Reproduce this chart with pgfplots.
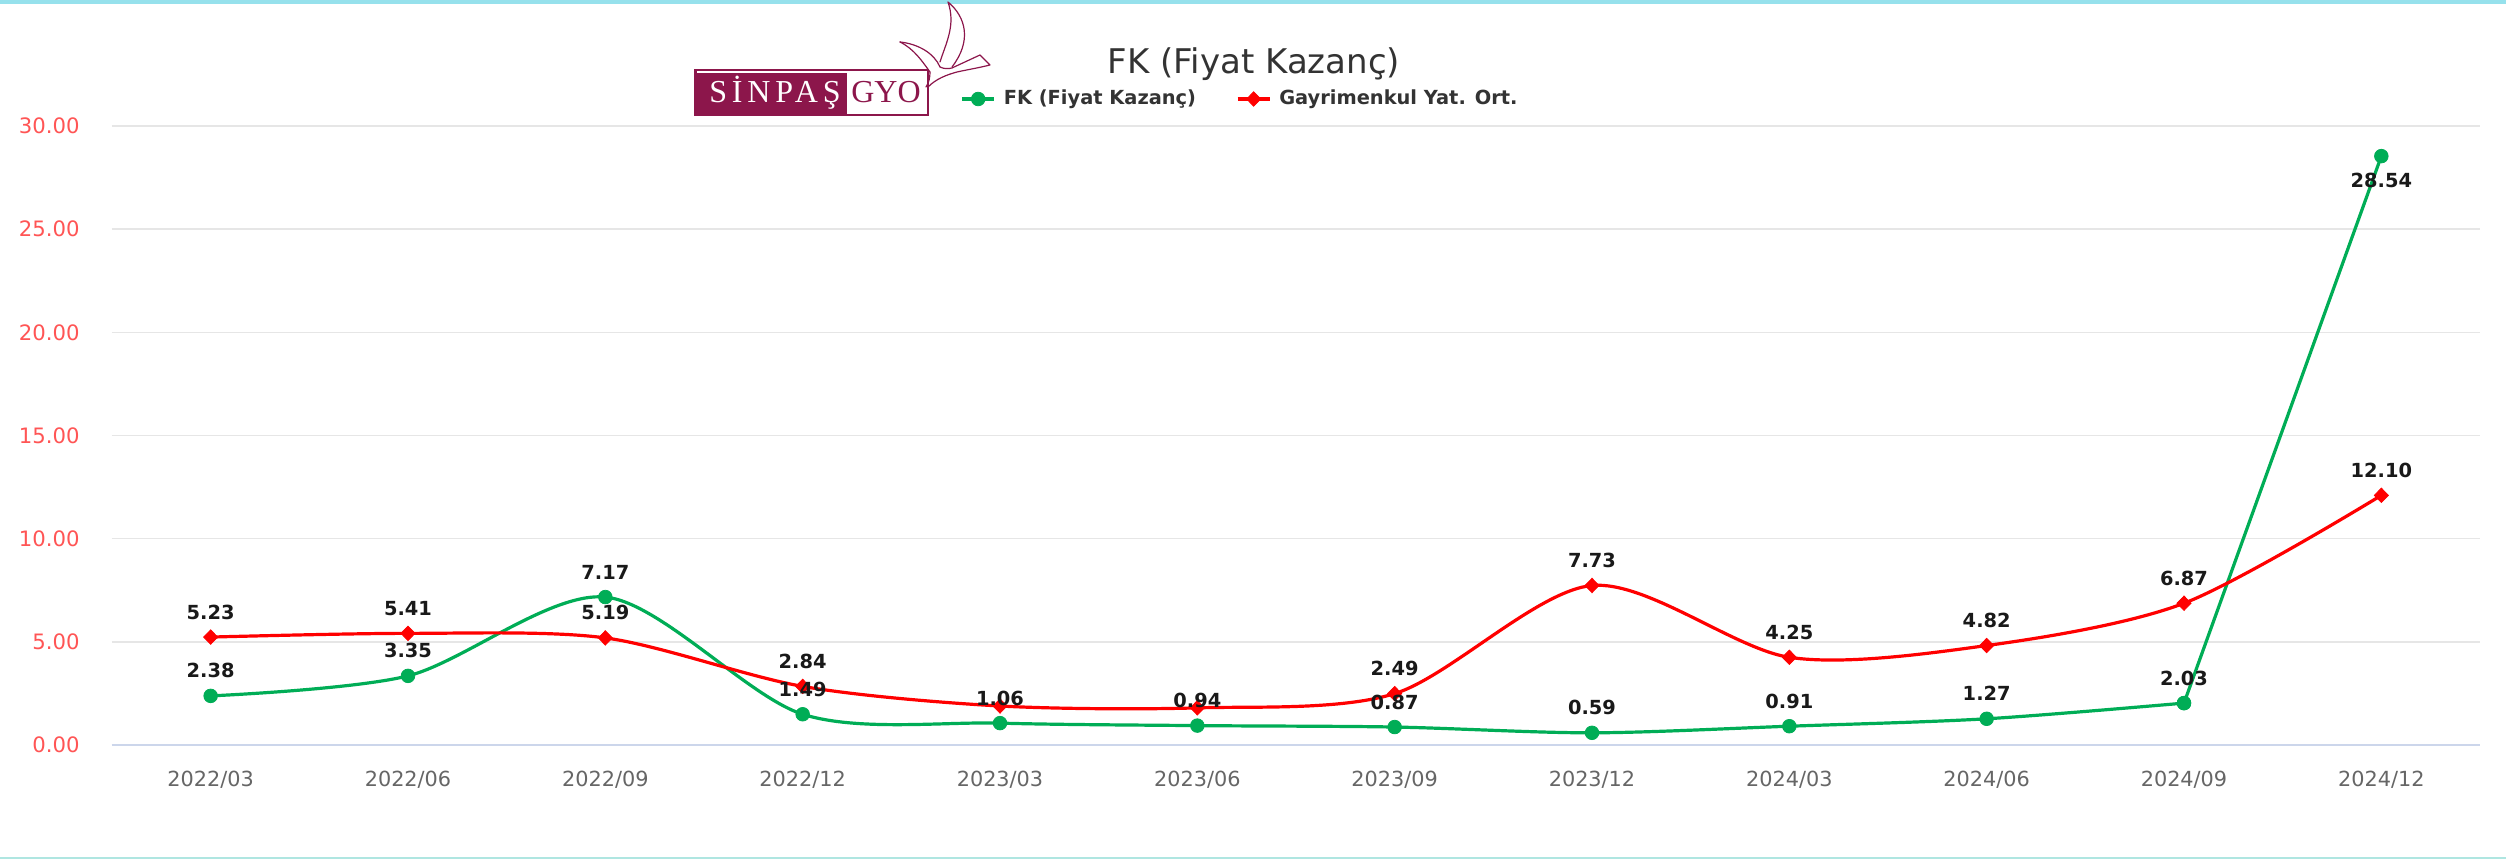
\documentclass[border=0pt]{standalone}
\usepackage{fontspec}
\setmainfont{DejaVu Sans}
\newfontfamily\logofont{Liberation Serif}
\usepackage{pgfplots}
\pgfplotsset{compat=1.18}
\usepackage{pgfplotstable}
\definecolor{fkgreen}{RGB}{0,173,86}
\definecolor{gyred}{RGB}{255,0,0}
\definecolor{ticred}{RGB}{255,85,85}
\definecolor{xlab}{RGB}{102,102,102}
\definecolor{ttl}{RGB}{51,51,51}
\definecolor{lbl}{RGB}{25,25,25}
\definecolor{gridc}{RGB}{230,230,230}
\definecolor{axc}{RGB}{204,214,235}
\definecolor{maroon}{RGB}{140,22,75}
\definecolor{topc}{RGB}{150,225,236}
\definecolor{botc}{RGB}{175,230,225}
\newcommand\ytfont{\fontsize{10.6}{12}\selectfont}
\newcommand\xtfont{\fontsize{10.4}{12}\selectfont}
\newcommand\lblfont{\fontsize{9.7}{11}\selectfont\bfseries}
\newcommand\legfont{\fontsize{9.7}{11}\selectfont\bfseries}
\newcommand\titlefont{\fontsize{17}{20}\selectfont}

\pgfplotstableread{
x y dy
0 2.38 12.5
1 3.35 12.5
2 7.17 12.5
3 1.49 12.5
4 1.06 12.5
5 0.94 12.5
6 0.87 12.5
7 0.59 12.5
8 0.91 12.5
9 1.27 12.5
10 2.03 12.5
11 28.54 -12
}\fk

\pgfplotstableread{
x y dy
0 5.23 12.5
1 5.41 12.5
2 5.19 12.5
3 2.84 12.5
4 1.89 12.5
5 1.80 12.5
6 2.49 12.5
7 7.73 12.5
8 4.25 12.5
9 4.82 12.5
10 6.87 12.5
11 12.10 12.5
}\gy

\begin{document}
\begin{tikzpicture}
\fill[white] (-56pt,-57.5pt) rectangle (1197pt,372.5pt);
\fill[topc] (-56pt,370.5pt) rectangle (1197pt,372.5pt);
\fill[botc] (-56pt,-57.2pt) rectangle (1197pt,-56.2pt);
\begin{axis}[
  scale only axis, width=1184pt, height=309.5pt,
  xmin=-0.5, xmax=11.5, ymin=0, ymax=30,
  xtick={0,...,11},
  xticklabels={2022/03,2022/06,2022/09,2022/12,2023/03,2023/06,2023/09,2023/12,2024/03,2024/06,2024/09,2024/12},
  ytick={0,5,...,30},
  axis line style={draw=none}, major tick length=0pt,
  ymajorgrids, grid style={gridc, line width=0.8pt},
  /pgf/number format/assume math mode=true,
  yticklabel style={anchor=east, inner sep=0pt, xshift=-16pt, font=\ytfont, text=ticred,
    /pgf/number format/.cd, fixed, fixed zerofill, precision=2},
  xticklabel style={anchor=base, inner sep=0pt, yshift=-20.6pt, font=\xtfont, text=xlab},
  clip=false,
  legend style={at={(axis description cs:0.4768,1.0436)}, anchor=center, draw=none, fill=none,
    legend columns=2, font=\legfont, text=ttl, inner sep=0pt, column sep=2pt,
    /tikz/every even column/.append style={column sep=18pt}},
  legend image code/.code={\draw[mark repeat=2,mark phase=2,#1] plot coordinates {(0pt,0pt) (8pt,0pt) (16pt,0pt)};},
]
\draw[axc, line width=1pt] (rel axis cs:0,0) -- (rel axis cs:1,0);

\addplot[fkgreen, line width=1.6pt, smooth, mark=*, mark size=3.4pt, mark options={line width=0.4pt},
  restrict x to domain=0:10] table[x=x,y=y] {\fk};
\addlegendentry{FK (Fiyat Kazanç)}
\addplot[fkgreen, line width=1.6pt, sharp plot, mark=*, mark size=3.4pt, mark options={line width=0.4pt},
  restrict x to domain=10:11, forget plot] table[x=x,y=y] {\fk};

\addplot[gyred, line width=1.6pt, smooth, mark=diamond*, mark size=3.6pt, mark options={xscale=1.3, line width=0.4pt}]
  table[x=x,y=y] {\gy};
\addlegendentry{Gayrimenkul Yat. Ort.}

\addplot[draw=none, mark=none, forget plot, point meta=y,
  visualization depends on={\thisrow{dy}\as\dy},
  nodes near coords={\pgfmathprintnumber[fixed,fixed zerofill,precision=2]{\pgfplotspointmeta}},
  nodes near coords style={font=\lblfont, text=lbl, anchor=center, inner sep=0pt, yshift=\dy*1pt}]
  table[x=x,y=y] {\fk};
\addplot[draw=none, mark=none, forget plot, point meta=y,
  skip coords between index={4}{6},
  visualization depends on={\thisrow{dy}\as\dy},
  nodes near coords={\pgfmathprintnumber[fixed,fixed zerofill,precision=2]{\pgfplotspointmeta}},
  nodes near coords style={font=\lblfont, text=lbl, anchor=center, inner sep=0pt, yshift=\dy*1pt}]
  table[x=x,y=y] {\gy};
\end{axis}

% title
\node[font=\titlefont, text=ttl] at (571pt,340.5pt) {FK (Fiyat Kazanç)};

% logo
\fill[white] (291.75pt,315pt) rectangle (408pt,337.5pt);
\fill[maroon] (291.75pt,315pt) rectangle (367.25pt,336.2pt);
\draw[maroon, line width=1.1pt] (291.75pt,315pt) rectangle (408pt,337.5pt);
\node[text=white, anchor=base, inner sep=0pt, font=\logofont\fontsize{16}{16}\selectfont\addfontfeature{LetterSpace=15}] at (331.5pt,321pt) {SİNPAŞ};
\node[text=maroon, anchor=base, inner sep=0pt, font=\logofont\fontsize{16}{16}\selectfont] at (387pt,321pt) {GYO};
% bird
\begin{scope}[maroon, line width=0.6pt, line join=round, line cap=round]
\draw (414pt,341.5pt) .. controls (417pt,351pt) and (422pt,360pt) .. (418pt,371.5pt)
   .. controls (427pt,364pt) and (430pt,352pt) .. (420pt,339pt);
\draw (394pt,351.5pt) .. controls (403pt,350.5pt) and (411pt,346pt) .. (414pt,339pt);
\draw (394pt,351.5pt) .. controls (401pt,348pt) and (405pt,342pt) .. (409pt,336.5pt);
\draw (414pt,339pt) .. controls (416pt,338pt) and (418pt,338pt) .. (420pt,338.5pt)
   -- (434pt,345pt) -- (439pt,340pt) .. controls (433pt,338.5pt) and (427pt,337.5pt) .. (422.5pt,336.5pt)
   .. controls (417pt,335pt) and (412pt,333pt) .. (408pt,329pt);
\draw (409pt,336.5pt) .. controls (409pt,334pt) and (408.5pt,331pt) .. (407pt,329pt);
\end{scope}

\pgfresetboundingbox
\useasboundingbox (-56pt,-57.5pt) rectangle (1197pt,372.5pt);
\end{tikzpicture}
\end{document}
